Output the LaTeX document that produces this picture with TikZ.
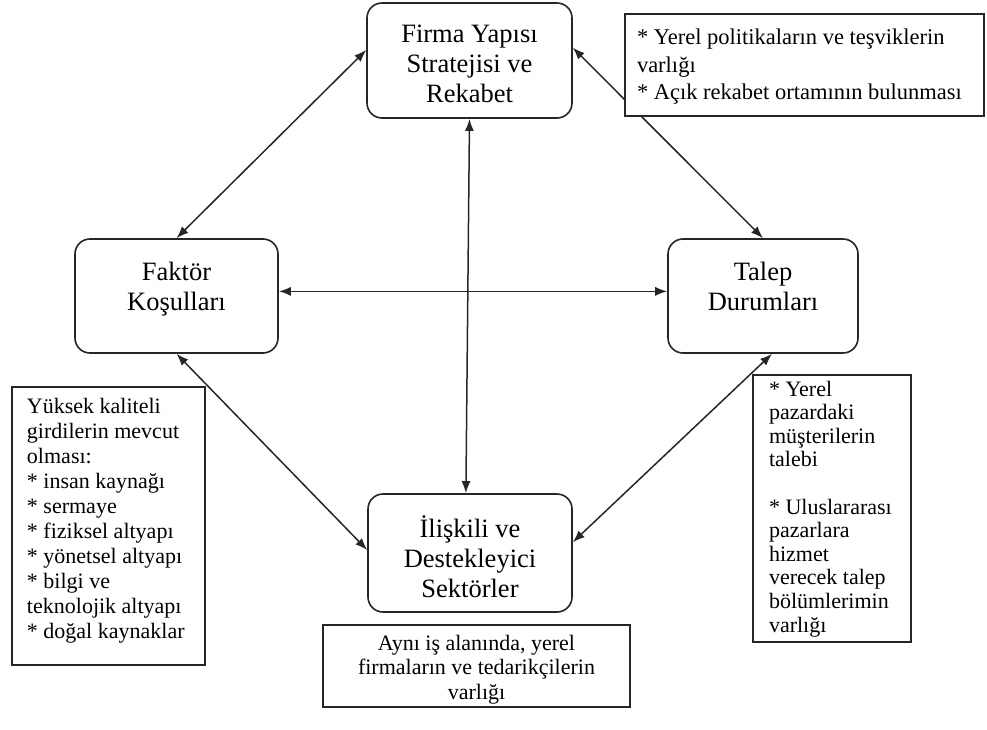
\documentclass[tikz,border=0pt]{standalone}
\usepackage{fontspec}
\setmainfont{Liberation Serif}
\usetikzlibrary{arrows.meta,calc}
\begin{document}
\begin{tikzpicture}[x=1pt,y=-1pt,
  mainbox/.style={draw=black!85, rounded corners=15pt, line width=1.6pt, inner sep=0pt, fill=white,
    font=\fontsize{26.5}{30}\selectfont},
  notebox/.style={draw=black!85, line width=1.5pt, inner sep=0pt, fill=white},
  arr/.style={{Latex[length=12pt,width=9pt]}-{Latex[length=12pt,width=9pt]}, line width=1.5pt, draw=black!85}]
\useasboundingbox (0,0) rectangle (987,730);

% main rounded boxes
\node[mainbox] (top) at (469.5,60.5) {\begin{minipage}[c][115pt][t]{205pt}\centering\rule{0pt}{40pt}Firma Yapısı\\Stratejisi ve\\Rekabet\end{minipage}};
\node[mainbox] (left) at (176.5,296) {\begin{minipage}[c][114pt][t]{203pt}\centering\rule{0pt}{41pt}Faktör\\Koşulları\end{minipage}};
\node[mainbox] (right) at (763,296) {\begin{minipage}[c][114pt][t]{190pt}\centering\rule{0pt}{41pt}Talep\\Durumları\end{minipage}};
\node[mainbox] (bottom) at (470,553) {\begin{minipage}[c][118pt][t]{204pt}\centering\rule{0pt}{43pt}İlişkili ve\\Destekleyici\\Sektörler\end{minipage}};

% connectors
\draw[arr] ($(top.north west)!0.41!(top.south west)$) -- (left.north);
\draw[arr] ($(top.north east)!0.39!(top.south east)$) -- (right.north);
\coordinate (h1) at ($(left.north east)!0.46!(left.south east)$);
\draw[arr] (h1) -- (h1 -| right.west);
\draw[arr] (top.south) -- ($(bottom.north west)!0.48!(bottom.north east)$);
\draw[arr] (left.south) -- ($(bottom.north west)!0.475!(bottom.south west)$);
\draw[arr] ($(right.south west)!0.547!(right.south east)$) -- ($(bottom.north east)!0.41!(bottom.south east)$);

% note boxes
\node[notebox, font=\fontsize{22.5}{27.5}\selectfont] (ntr) at (804.5,65) {\begin{minipage}[c][102pt][t]{359pt}\raggedright\leftskip=12pt\rule{0pt}{31pt}* Yerel politikaların ve teşviklerin\\{}varlığı\\{}* Açık rekabet ortamının bulunması\end{minipage}};
\node[notebox, font=\fontsize{22}{25}\selectfont] (nl) at (108.5,526) {\begin{minipage}[c][278pt][t]{193pt}\raggedright\leftskip=15pt\rule{0pt}{26pt}Yüksek kaliteli\\{}girdilerin mevcut\\{}olması:\\{}* insan kaynağı\\{}* sermaye\\{}* fiziksel altyapı\\{}* yönetsel altyapı\\{}* bilgi ve\\{}teknolojik altyapı\\{}* doğal kaynaklar\end{minipage}};
\node[notebox, font=\fontsize{22}{23.6}\selectfont] (nr) at (832,508.5) {\begin{minipage}[c][267pt][t]{158pt}\raggedright\leftskip=16pt\rule{0pt}{21pt}* Yerel\\{}pazardaki\\{}müşterilerin\\{}talebi\\[23.6pt]{}* Uluslararası\\{}pazarlara\\{}hizmet\\{}verecek talep\\{}bölümlerimin\\{}varlığı\end{minipage}};
\node[notebox, font=\fontsize{22}{24.5}\selectfont] (nb) at (476.5,666) {\begin{minipage}[c][82pt][t]{307pt}\centering\rule{0pt}{25pt}Aynı iş alanında, yerel\\{}firmaların ve tedarikçilerin\\{}varlığı\end{minipage}};
\end{tikzpicture}
\end{document}
